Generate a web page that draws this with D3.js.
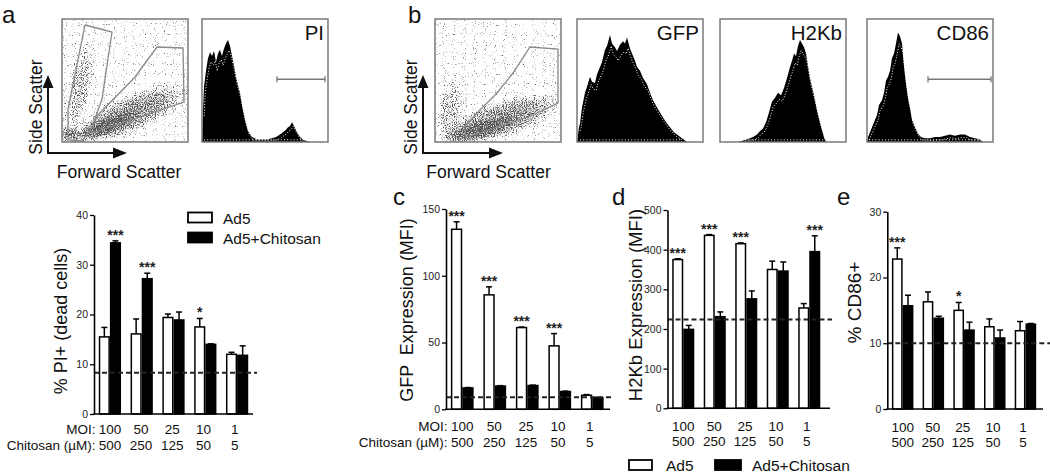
<!DOCTYPE html>
<html><head><meta charset="utf-8">
<script src="https://cdn.jsdelivr.net/npm/d3@7"></script>
<style>
body{margin:0;background:#fff}
svg{display:block;font-family:"Liberation Sans",Arial,Helvetica,sans-serif}
</style>
</head><body>
<svg id="fig" width="1050" height="473"></svg>
<script>
// ---------------- DATA ----------------
const moiLabels = ["100","50","25","10","1"];
const chitosanLabels = ["500","250","125","50","5"];
const seriesNames = ["Ad5","Ad5+Chitosan"];

// a: % PI+ (dead cells)
const piTicks = [0,10,20,30,40];
const piAd5 = [15.5,16.1,19.4,17.5,12.0];
const piAd5Sem = [1.9,3.0,0.7,1.7,0.4];
const piChi = [34.4,27.2,18.9,14.0,11.8];
const piChiSem = [0.4,1.1,1.6,0.1,1.9];
const piControl = 8.3;
const piStars = ["***","***","","*",""];

// c: GFP expression (MFI)
const gfpTicks = [0,50,100,150];
const gfpAd5 = [134.8,85.7,61.2,47.5,10.5];
const gfpAd5Sem = [5.6,6.0,0.4,9.2,0.5];
const gfpChi = [16.0,17.4,17.8,13.3,8.7];
const gfpChiSem = [0.3,0.3,0.3,0.3,0.3];
const gfpControl = 9.0;
const gfpStars = ["***","***","***","***",""];

// d: H2Kb expression (MFI)
const h2Ticks = [0,100,200,300,400,500];
const h2Ad5 = [375,436,415,350,253];
const h2Ad5Sem = [2,2,2,21,11];
const h2Chi = [199,231,276,346,395];
const h2ChiSem = [10,12,20,23,40];
const h2Control = 224;
const h2Stars = ["***","***","***","","***"];

// e: % CD86+
const cdTicks = [0,10,20,30];
const cdAd5 = [22.8,16.3,15.0,12.5,11.9];
const cdAd5Sem = [1.7,1.5,1.2,1.2,1.4];
const cdChi = [15.7,13.8,12.0,10.8,12.9];
const cdChiSem = [1.6,0.3,1.2,1.2,0.1];
const cdControl = 10.0;
const cdStars = ["***","","*","",""];

// flow histograms (channel 0-126, % of max height)
const piHistX = [0,1,2,4,6,8,10,12,14,16,18,20,22,24,26,28,30,32,34,36,38,40,43,46,50,55,60,65,70,74,78,81,84,86,88,90,92,95,98,101,104,108];
const piHistY = [0,25,45,58,68,73,70,74,65,72,75,70,76,80,83,78,70,62,53,46,40,30,18,9,4,2,2,2,3,4,6,8,10,12,13,16,13,8,4,2,1,0];
const gfpHistX = [0,2,3,5,8,10,13,15,18,20,23,25,28,30,33,35,38,40,43,46,48,50,53,55,58,60,63,66,70,73,76,80,83,86,90,93,97,100,105,110];
const gfpHistY = [0,12,15,28,40,45,53,49,48,55,61,65,75,78,87,80,77,74,79,82,80,85,76,72,66,61,58,52,47,40,34,28,24,20,15,12,8,6,3,0];
const h2HistX = [0,18,22,26,30,33,37,40,43,46,49,52,55,58,61,64,67,70,72,74,76,78,80,82,84,86,88,90,92,94,97,100,102,104,106];
const h2HistY = [0,0,1,2,3,4,6,9,11,16,24,33,36,40,38,44,52,61,66,72,70,78,83,80,77,72,62,52,45,38,26,16,10,4,0];
const cdHistX = [0,1,3,5,8,10,12,15,17,19,21,23,25,27,29,31,33,35,37,39,41,43,45,48,51,54,58,63,68,73,78,83,88,93,98,103,108,113,116];
const cdHistY = [0,4,8,12,18,22,30,34,40,50,53,58,68,72,80,89,86,80,62,48,36,28,18,12,7,4,3,3,4,4,5,6,5,6,6,4,3,2,0];
const piGate = [75,123];
const cdGate = [61,124];

// scatter gates (FSC channel, SSC channel; 0-126 x 0-123)
const gateA1 = [[23,117],[50,110],[40,43],[30,15],[20,1],[6,2],[6,33]];
const gateA2 = [[28,11],[36,27],[73,65],[95,95],[121,94],[122,40],[30,9]];
const gateB = [[31,5],[29,15],[45,32],[62,49],[78,69],[95,95],[123,93],[123,39],[98,27],[45,9]];

// ---------------- DRAWING ----------------
const svg = d3.select("#fig");
const defs = svg.append("defs");
const INK = "#111";

// speckle filter for scatter plots
const f = defs.append("filter").attr("id","speck")
  .attr("x",0).attr("y",0).attr("width",1).attr("height",1)
  .attr("color-interpolation-filters","sRGB");
f.append("feTurbulence").attr("type","fractalNoise").attr("baseFrequency",0.9)
  .attr("numOctaves",1).attr("seed",4).attr("result","noise");
f.append("feColorMatrix").attr("in","noise").attr("type","matrix")
  .attr("values","0 0 0 0 0  0 0 0 0 0  0 0 0 0 0  1 0 0 0 0").attr("result","na");
f.append("feComposite").attr("in","SourceAlpha").attr("in2","na").attr("operator","arithmetic")
  .attr("k1",0).attr("k2",2.4).attr("k3",6).attr("k4",-4.3).attr("result","m");
f.append("feFlood").attr("flood-color","#555").attr("result","fl");
f.append("feComposite").attr("in","fl").attr("in2","m").attr("operator","in");

const blurF = defs.append("filter").attr("id","soft").attr("x","-50%").attr("y","-50%").attr("width","200%").attr("height","200%");
blurF.append("feGaussianBlur").attr("stdDeviation",4);

const rg = defs.append("radialGradient").attr("id","blob");
rg.append("stop").attr("offset","0%").attr("stop-color","#fff").attr("stop-opacity",1);
rg.append("stop").attr("offset","60%").attr("stop-color","#fff").attr("stop-opacity",0.7);
rg.append("stop").attr("offset","100%").attr("stop-color","#fff").attr("stop-opacity",0);

const BW = 126, BH = 123;

function frame(bx, by){
  svg.append("rect").attr("x",bx).attr("y",by).attr("width",BW).attr("height",BH)
    .attr("fill","none").attr("stroke","#7a7a7a").attr("stroke-width",1.5);
}

function drawScatter(bx, by, blobs, gates){
  const x = d3.scaleLinear().domain([0,126]).range([bx,bx+BW]);
  const y = d3.scaleLinear().domain([0,123]).range([by+BH,by]);
  const clipId = "clip"+bx;
  defs.append("clipPath").attr("id",clipId).append("rect")
    .attr("x",bx).attr("y",by).attr("width",BW).attr("height",BH);
  const g = svg.append("g").attr("clip-path",`url(#${clipId})`);
  // soft gray haze under the densest parts
  const haze = g.append("g").attr("filter","url(#soft)");
  blobs.forEach(b=>{
    haze.append("ellipse").attr("cx",x(b[0])).attr("cy",y(b[1])).attr("rx",b[2]*0.75).attr("ry",b[3]*0.6)
      .attr("transform",`rotate(${b[4]},${x(b[0])},${y(b[1])})`)
      .attr("fill","#999").attr("opacity",Math.max(0,b[5]-0.55));
  });
  const dens = g.append("g").attr("filter","url(#speck)");
  dens.append("rect").attr("x",bx).attr("y",by).attr("width",BW).attr("height",BH)
    .attr("fill","#fff").attr("fill-opacity",0.22);
  blobs.forEach(b=>{
    dens.append("ellipse").attr("cx",x(b[0])).attr("cy",y(b[1])).attr("rx",b[2]).attr("ry",b[3])
      .attr("transform",`rotate(${b[4]},${x(b[0])},${y(b[1])})`)
      .attr("fill","url(#blob)").attr("opacity",b[5]);
  });
  const line = d3.line().x(d=>x(d[0])).y(d=>y(d[1])).curve(d3.curveLinearClosed);
  gates.forEach(gp=>{
    svg.append("path").attr("d",line(gp)).attr("fill","none")
      .attr("stroke","#8a8a8a").attr("stroke-width",1.3);
  });
  frame(bx,by);
}

function drawHist(bx, by, xs, ys, label, gate){
  const x = d3.scaleLinear().domain([0,126]).range([bx,bx+BW]);
  const y = d3.scaleLinear().domain([0,100]).range([by+BH,by]);
  const idx = d3.range(xs.length);
  const area = d3.area().x(i=>x(xs[i])).y0(y(0)).y1(i=>y(ys[i]));
  svg.append("path").attr("d",area(idx)).attr("fill","#000");
  const dl = d3.line().x(i=>x(xs[i]+1.2)).y(i=>y(Math.max(1.5,ys[i]*0.92-2)));
  svg.append("path").attr("d",dl(idx.slice(1,-1))).attr("fill","none")
    .attr("stroke","#fff").attr("stroke-width",1).attr("stroke-dasharray","1,1.8");
  svg.append("line").attr("x1",x(xs[1]+1)).attr("x2",x(xs[xs.length-2]))
    .attr("y1",y(1.8)).attr("y2",y(1.8))
    .attr("stroke","#fff").attr("stroke-width",1).attr("stroke-dasharray","1,2.2");
  if(gate){
    const gy = y(51);
    svg.append("line").attr("x1",x(gate[0])).attr("x2",x(gate[1])).attr("y1",gy).attr("y2",gy)
      .attr("stroke","#777").attr("stroke-width",1.3);
    gate.forEach(v=>svg.append("line").attr("x1",x(v)).attr("x2",x(v)).attr("y1",gy-3).attr("y2",gy+3)
      .attr("stroke","#777").attr("stroke-width",1.3));
  }
  frame(bx,by);
  svg.append("text").attr("x",bx+BW-4).attr("y",by+20.5).attr("text-anchor","end")
    .attr("font-size",20.5).attr("fill",INK).text(label);
}

function arrows(ax, tipY, baseY, tipX, labX, labY, fscX){
  svg.append("line").attr("x1",ax).attr("x2",ax).attr("y1",baseY).attr("y2",tipY+10)
    .attr("stroke",INK).attr("stroke-width",2);
  svg.append("path").attr("d",`M${ax},${tipY}L${ax-5.5},${tipY+13}L${ax+5.5},${tipY+13}Z`).attr("fill",INK);
  svg.append("line").attr("x1",ax-1).attr("x2",tipX-10).attr("y1",baseY).attr("y2",baseY)
    .attr("stroke",INK).attr("stroke-width",2);
  svg.append("path").attr("d",`M${tipX},${baseY}L${tipX-14},${baseY-5.5}L${tipX-14},${baseY+5.5}Z`).attr("fill",INK);
  svg.append("text").attr("transform",`translate(${labX},${labY}) rotate(-90)`)
    .attr("text-anchor","middle").attr("font-size",17.5).attr("fill",INK).text("Side Scatter");
  svg.append("text").attr("x",fscX).attr("y",178).attr("text-anchor","middle")
    .attr("font-size",17.5).attr("fill",INK).text("Forward Scatter");
}

// panel letters
[["a",2,23],["b",408,23],["c",393,205],["d",612,205],["e",837,205]].forEach(l=>{
  svg.append("text").attr("x",l[1]).attr("y",l[2]).attr("font-size",24).attr("fill",INK).text(l[0]);
});

// top row
drawScatter(62,19,[
  [18,55,13,50,12,0.55],[68,28,66,20,-24,0.78],[43,15,38,9,-20,0.95],[8,8,12,9,0,0.8]
],[gateA1,gateA2]);
drawHist(202,19,piHistX,piHistY,"PI",piGate);
arrows(48,75,153,127,42,107,119);

drawScatter(435,19,[
  [65,22,68,20,-18,0.78],[45,12,40,9,-15,0.95],[15,32,15,35,10,0.5]
],[gateB]);
drawHist(577,19,gfpHistX,gfpHistY,"GFP",null);
drawHist(720,19,h2HistX,h2HistY,"H2Kb",null);
drawHist(867,19,cdHistX,cdHistY,"CD86",cdGate);
arrows(423,75,153,503,417,107,488.5);

// bar panels
function barPanel(p){
  const x = d3.scaleBand().domain(moiLabels).range([p.x0,p.x1]).paddingInner(0.3).paddingOuter(0.15);
  const y = d3.scaleLinear().domain([0,p.ymax]).range([p.y0,p.yTop]);
  const bw = x.bandwidth()/2;
  const g = svg.append("g");
  const series = [
    {vals:p.ad5, sem:p.ad5Sem, off:0, fill:"#fff"},
    {vals:p.chi, sem:p.chiSem, off:bw, fill:"#000"}
  ];
  series.forEach(s=>{
    moiLabels.forEach((m,i)=>{
      const bx = x(m)+s.off;
      const cx = bx + bw/2;
      const top = y(s.vals[i]);
      const et = y(s.vals[i]+s.sem[i]);
      g.append("line").attr("x1",cx).attr("x2",cx).attr("y1",top).attr("y2",et)
        .attr("stroke","#000").attr("stroke-width",1.5);
      g.append("line").attr("x1",cx-3).attr("x2",cx+3).attr("y1",et).attr("y2",et)
        .attr("stroke","#000").attr("stroke-width",1.5);
      g.append("rect").attr("x",bx+0.75).attr("y",top).attr("width",bw-1.5).attr("height",y(0)-top)
        .attr("fill",s.fill).attr("stroke","#000").attr("stroke-width",1.5);
    });
  });
  // dashed control line (drawn over the bars)
  g.append("line").attr("x1",p.x0).attr("x2",p.dashEnd).attr("y1",y(p.ctrl)).attr("y2",y(p.ctrl))
    .attr("stroke","#222").attr("stroke-width",2).attr("stroke-dasharray","5,3");
  // significance stars above the taller bar
  moiLabels.forEach((m,i)=>{
    if(!p.stars[i]) return;
    const a = p.ad5[i]+p.ad5Sem[i], b = p.chi[i]+p.chiSem[i];
    const cx = x(m) + (a>=b ? bw/2 : bw*1.5);
    g.append("text").attr("x",cx).attr("y",y(Math.max(a,b))-1).attr("text-anchor","middle")
      .attr("font-size",14).attr("font-weight","bold").attr("fill","#222").text(p.stars[i]);
  });
  // axes
  const ya = g.append("g").attr("transform",`translate(${p.x0},0)`)
    .call(d3.axisLeft(y).tickValues(p.ticks).tickSize(4).tickSizeOuter(0).tickPadding(2));
  ya.select(".domain").attr("stroke","#000").attr("stroke-width",1.6);
  ya.selectAll(".tick line").attr("stroke","#000").attr("stroke-width",1.3);
  ya.selectAll(".tick text").attr("font-size",10.5).attr("fill","#222").attr("font-family",null);
  g.append("line").attr("x1",p.x0-0.8).attr("x2",p.lineEnd).attr("y1",y(0)).attr("y2",y(0))
    .attr("stroke","#000").attr("stroke-width",1.6);
  // category labels
  moiLabels.forEach((m,i)=>{
    const cx = x(m)+x.bandwidth()/2 - i*0.6;
    g.append("text").attr("x",cx).attr("y",p.row1).attr("text-anchor","middle")
      .attr("font-size",13.5).attr("fill",INK).text(m);
    g.append("text").attr("x",cx).attr("y",p.row2).attr("text-anchor","middle")
      .attr("font-size",13.5).attr("fill",INK).text(chitosanLabels[i]);
  });
  if(p.rowLabels){
    g.append("text").attr("x",p.x0+1.5).attr("y",p.row1).attr("text-anchor","end")
      .attr("font-size",13.5).attr("fill",INK).text("MOI:");
    g.append("text").attr("x",p.x0+1.5).attr("y",p.row2).attr("text-anchor","end")
      .attr("font-size",13.5).attr("fill",INK).text("Chitosan (\u00b5M):");
  }
  g.append("text").attr("transform",`translate(${p.tx},${p.ty}) rotate(-90)`)
    .attr("text-anchor","middle").attr("dominant-baseline","central")
    .attr("font-size",p.tfs).attr("fill",INK).style("white-space","pre").text(p.title);
}

barPanel({x0:94,x1:253,lineEnd:253,dashEnd:257,y0:414,yTop:215,ymax:40,ticks:piTicks,
  ad5:piAd5,ad5Sem:piAd5Sem,chi:piChi,chiSem:piChiSem,ctrl:piControl,stars:piStars,
  row1:433.5,row2:450,rowLabels:true,title:"% PI+ (dead cells)",tx:61,ty:321,tfs:18});
barPanel({x0:446,x1:608.5,lineEnd:610,dashEnd:612,y0:409.3,yTop:209,ymax:150,ticks:gfpTicks,
  ad5:gfpAd5,ad5Sem:gfpAd5Sem,chi:gfpChi,chiSem:gfpChiSem,ctrl:gfpControl,stars:gfpStars,
  row1:431,row2:446.5,rowLabels:true,title:"GFP  Expression (MFI)",tx:407,ty:310,tfs:18});
barPanel({x0:667.5,x1:825,lineEnd:830,dashEnd:832,y0:408.3,yTop:210,ymax:500,ticks:h2Ticks,
  ad5:h2Ad5,ad5Sem:h2Ad5Sem,chi:h2Chi,chiSem:h2ChiSem,ctrl:h2Control,stars:h2Stars,
  row1:431,row2:446,rowLabels:false,title:"H2Kb Expression (MFI)",tx:635,ty:305,tfs:18.5});
barPanel({x0:887.3,x1:1040.8,lineEnd:1043,dashEnd:1050,y0:409,yTop:211.7,ymax:30,ticks:cdTicks,
  ad5:cdAd5,ad5Sem:cdAd5Sem,chi:cdChi,chiSem:cdChiSem,ctrl:cdControl,stars:cdStars,
  row1:431.5,row2:446.5,rowLabels:false,title:"% CD86+",tx:854,ty:302.5,tfs:19});

// legends
function legend(items){
  items.forEach(it=>{
    svg.append("rect").attr("x",it.rx).attr("y",it.ry).attr("width",it.rw).attr("height",10)
      .attr("fill",it.fill).attr("stroke","#000").attr("stroke-width",1.8);
    svg.append("text").attr("x",it.tx).attr("y",it.ty).attr("font-size",15.5).attr("fill",INK).text(it.name);
  });
}
legend([
  {name:seriesNames[0],fill:"#fff",rx:188,ry:212.5,rw:24,tx:223,ty:223.5},
  {name:seriesNames[1],fill:"#000",rx:188,ry:232.5,rw:24,tx:223,ty:243.5}
]);
legend([
  {name:seriesNames[0],fill:"#fff",rx:629,ry:460,rw:23,tx:666,ty:471},
  {name:seriesNames[1],fill:"#000",rx:715,ry:460,rw:26,tx:752,ty:471}
]);
</script>
</body></html>
